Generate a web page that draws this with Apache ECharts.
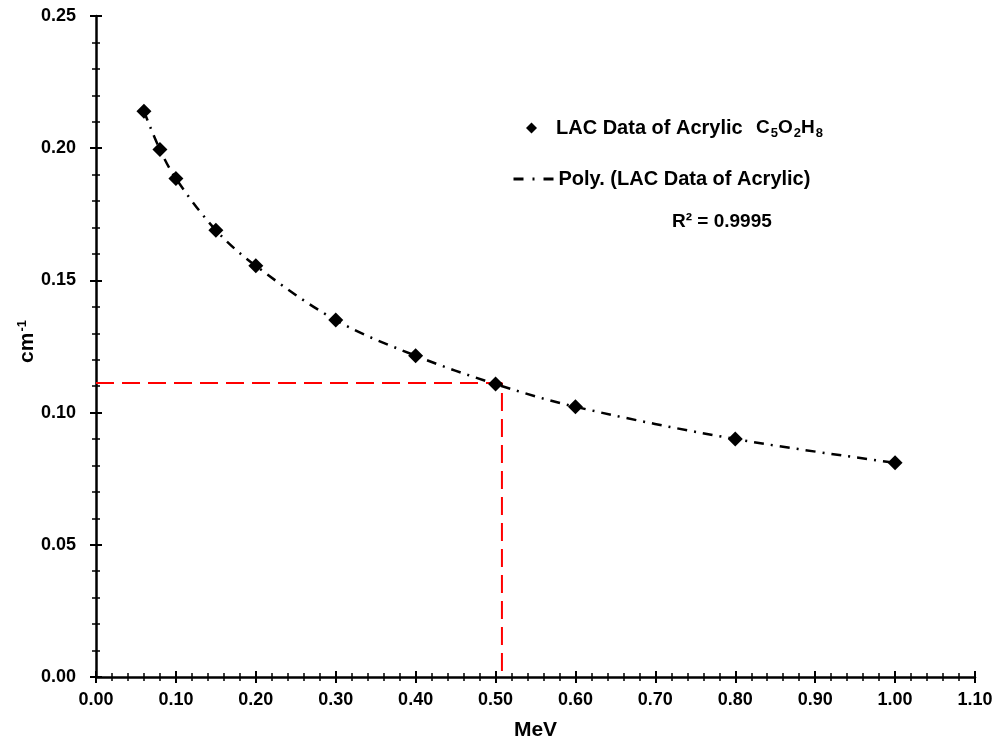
<!DOCTYPE html>
<html>
<head>
<meta charset="utf-8">
<script src="https://cdn.jsdelivr.net/npm/echarts@6/dist/echarts.min.js"></script>
<style>html,body{margin:0;padding:0;background:#fff}#c{width:999px;height:743px}</style>
</head>
<body>
<div id="c"></div>
<script>
const energyMeV = [0.06, 0.08, 0.10, 0.15, 0.20, 0.30, 0.40, 0.50, 0.60, 0.80, 1.00];
const lacValues = [0.214, 0.1995, 0.1885, 0.169, 0.1555, 0.135, 0.1215, 0.1108, 0.1022, 0.090, 0.081];
const refEnergy = 0.508;
const refLac = 0.1112;
const seriesName = 'LAC Data of Acrylic';
const trendName = 'Poly. (LAC Data of Acrylic)';
const r2Text = 'R² = 0.9995';

const FONT = 'Liberation Sans, Arial, sans-serif';
const pts = energyMeV.map((x, i) => [x, lacValues[i]]);

const chart = echarts.init(document.getElementById('c'));
const axisCommon = {
  axisLine: { show: true, onZero: false, lineStyle: { color: '#000', width: 2.5 } },
  splitLine: { show: false }
};
const tickMajor = { color: '#000', width: 2 };
const tickMinor = { color: '#000', width: 1.5 };
chart.setOption({
  animation: false,
  backgroundColor: '#fff',
  grid: { left: 96, right: 24, top: 16, bottom: 66, containLabel: false, outerBoundsMode: 'none' },
  xAxis: [{
    type: 'value', min: 0, max: 1.1, interval: 0.1,
    ...axisCommon,
    axisTick: { show: true, inside: false, length: 6, lineStyle: tickMajor },
    minorTick: { show: true, splitNumber: 5, length: 4, lineStyle: tickMinor },
    axisLabel: { margin: 14, formatter: v => v.toFixed(2), color: '#000', fontFamily: FONT, fontWeight: 'bold', fontSize: 18 },
    name: 'MeV', nameLocation: 'middle', nameGap: 43,
    nameTextStyle: { color: '#000', fontFamily: FONT, fontWeight: 'bold', fontSize: 21 }
  }, {
    type: 'value', min: 0, max: 1.1, interval: 0.1, position: 'bottom', offset: 0,
    axisLine: { show: false }, splitLine: { show: false }, axisLabel: { show: false },
    axisTick: { show: true, inside: true, length: 6, lineStyle: tickMajor },
    minorTick: { show: true, splitNumber: 5, length: 4, lineStyle: tickMinor }
  }],
  yAxis: [{
    type: 'value', min: 0, max: 0.25, interval: 0.05,
    ...axisCommon,
    axisTick: { show: true, inside: false, length: 6, lineStyle: tickMajor },
    minorTick: { show: true, splitNumber: 5, length: 4, lineStyle: tickMinor },
    axisLabel: { margin: 20, formatter: v => v.toFixed(2), color: '#000', fontFamily: FONT, fontWeight: 'bold', fontSize: 18 },
    name: '{a|cm}{s|-1}', nameLocation: 'middle', nameGap: 57, nameRotate: 90, nameMoveOverlap: false,
    nameTextStyle: {
      color: '#000', fontFamily: FONT, fontWeight: 'bold', fontSize: 21,
      padding: [0, 0, 0, 10],
      rich: {
        a: { fontFamily: FONT, fontWeight: 'bold', fontSize: 21, color: '#000' },
        s: { fontFamily: FONT, fontWeight: 'bold', fontSize: 13, color: '#000', padding: [0, 0, 10, 1] }
      }
    }
  }, {
    type: 'value', min: 0, max: 0.25, interval: 0.05, position: 'left', offset: 0,
    axisLine: { show: false }, splitLine: { show: false }, axisLabel: { show: false },
    axisTick: { show: true, inside: true, length: 6, lineStyle: tickMajor },
    minorTick: { show: true, splitNumber: 5, length: 4, lineStyle: tickMinor }
  }],
  legend: [{
    data: [seriesName], left: 521, top: 113, orient: 'vertical',
    itemWidth: 11, itemHeight: 11, icon: 'diamond',
    itemStyle: { color: '#000', opacity: 1 },
    formatter: n => '{t|' + n + '}    {c|C}{s|5}{c|O}{s|2}{c|H}{s|8}',
    textStyle: {
      padding: [0, 0, 0, 14],
      rich: {
        t: { fontFamily: FONT, fontWeight: 'bold', fontSize: 20, color: '#000' },
        c: { fontFamily: FONT, fontWeight: 'bold', fontSize: 19, color: '#000' },
        s: { fontFamily: FONT, fontWeight: 'bold', fontSize: 13, color: '#000', padding: [10, 0, 0, 1] }
      }
    }
  }, {
    data: [trendName], left: 507, top: 164, orient: 'vertical',
    itemWidth: 40, itemHeight: 14,
    itemStyle: { color: 'rgba(0,0,0,0)', borderWidth: 0 },
    lineStyle: { color: '#000', width: 3, type: [10, 9, 2, 9] },
    textStyle: { fontFamily: FONT, fontWeight: 'bold', fontSize: 20, color: '#000' }
  }],
  graphic: [{
    type: 'text', left: 672, top: 212,
    style: { text: r2Text, fontFamily: FONT, fontWeight: 'bold', fontSize: 19, fill: '#000' }
  }],
  series: [{
    name: 'ref', type: 'line', silent: true, symbol: 'none',
    data: [[0, refLac], [refEnergy, refLac], [refEnergy, 0]],
    lineStyle: { color: '#ff0000', width: 2, type: [18, 8] }, z: 1
  }, {
    name: trendName, type: 'line', symbol: 'none', smooth: 0.35,
    data: pts,
    itemStyle: { color: '#000' },
    lineStyle: { color: '#000', width: 2.5, type: [10, 7, 2, 7] }, z: 2
  }, {
    name: seriesName, type: 'scatter', symbol: 'diamond', symbolSize: 15,
    data: pts,
    itemStyle: { color: '#000', opacity: 1 }, z: 3
  }]
});
</script>
</body>
</html>
